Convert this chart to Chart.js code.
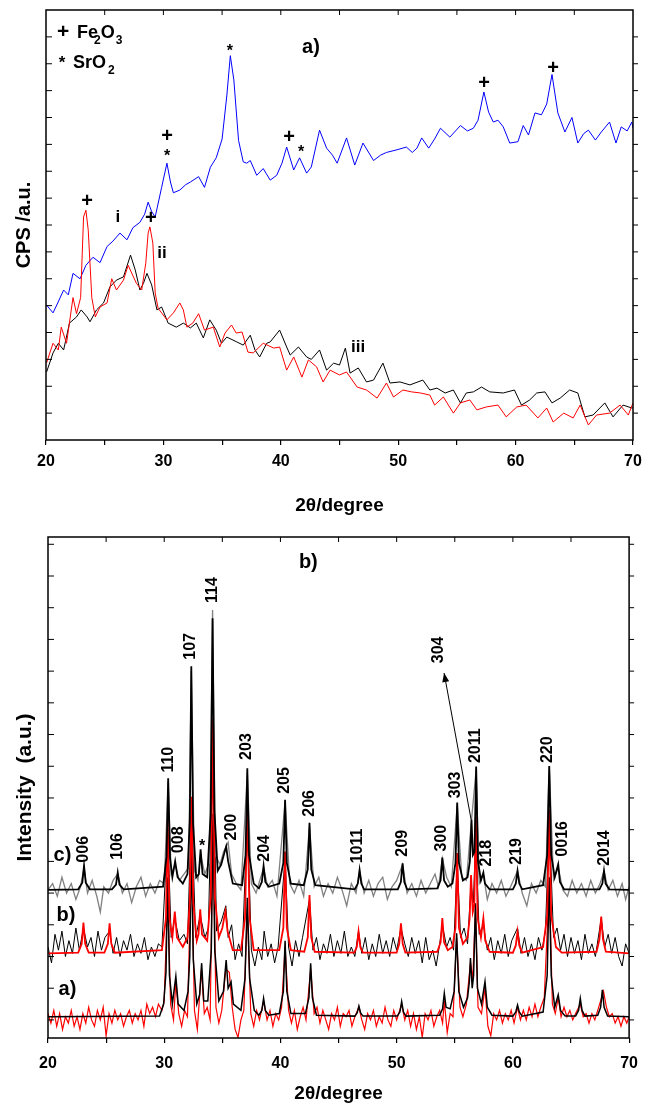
<!DOCTYPE html>
<html>
<head>
<meta charset="utf-8">
<script src="https://cdn.jsdelivr.net/npm/chart.js@4"></script>
<style>
  body { margin: 0; background: #fff; }
  canvas { display: block; }
</style>
</head>
<body>
<canvas id="xrdA" width="649" height="525"></canvas>
<canvas id="xrdB" width="649" height="581"></canvas>
<script>
// ---- panel a) raw patterns, [2theta, counts in a.u.] ----
const patternI = [[20.05,5.02],[20.6,4.73],[21.0,5.1],[21.5,5.58],[21.9,5.4],[22.3,6.2],[22.9,6.0],[23.4,6.5],[24.0,6.8],[24.6,6.6],[25.2,7.2],[25.7,7.4],[26.3,7.7],[26.9,7.45],[27.4,7.9],[28.0,8.1],[28.4,8.4],[28.7,8.85],[29.0,8.5],[29.3,8.3],[29.85,9.4],[30.3,10.3],[30.6,9.6],[30.85,9.2],[31.4,9.3],[31.9,9.5],[32.3,9.6],[33.0,9.8],[33.5,9.4],[34.0,10.15],[34.5,10.5],[35.0,11.2],[35.4,12.8],[35.7,14.3],[36.0,13.4],[36.4,11.15],[36.8,10.35],[37.1,10.3],[37.4,10.4],[37.95,9.85],[38.5,10.1],[39.1,9.67],[39.65,9.85],[40.1,10.3],[40.5,10.9],[41.1,10.05],[41.6,10.5],[42.2,9.93],[42.6,10.16],[43.3,11.53],[43.9,10.86],[44.4,10.6],[44.8,10.3],[45.6,11.24],[46.3,10.23],[47.0,11.05],[47.9,10.4],[48.5,10.6],[49.0,10.7],[49.9,10.8],[50.7,10.9],[51.2,10.7],[51.6,10.86],[52.0,11.24],[52.6,10.86],[53.1,11.2],[53.6,11.6],[54.4,11.27],[55.3,11.7],[55.9,11.5],[56.4,11.6],[56.8,11.9],[57.3,12.95],[57.7,12.2],[58.1,11.83],[58.5,11.9],[58.95,11.65],[59.5,11.05],[60.2,11.1],[60.65,11.7],[61.1,11.35],[61.65,12.17],[62.2,12.1],[62.65,12.5],[63.1,13.6],[63.6,12.17],[64.2,11.46],[64.8,12.0],[65.3,11.05],[65.8,11.4],[66.2,11.53],[66.8,11.16],[67.3,11.46],[68.0,11.83],[68.55,11.05],[69.0,11.65],[69.5,11.5],[69.9,11.83],[70,11.6]];
const patternII = [[20.05,2.87],[20.6,3.6],[21.05,3.35],[21.3,4.2],[21.75,3.6],[22.3,5.3],[22.6,4.7],[22.95,5.3],[23.2,8.3],[23.4,8.55],[23.6,7.8],[23.9,5.3],[24.2,4.58],[24.6,4.95],[25.2,5.1],[25.6,6.0],[26.0,5.58],[26.6,5.95],[27.0,6.5],[27.7,5.83],[28.15,5.58],[28.5,6.58],[28.7,7.7],[28.85,7.93],[29.1,7.33],[29.3,5.47],[29.55,4.9],[30.3,4.47],[30.85,4.73],[31.4,5.1],[31.7,4.84],[32.0,4.2],[32.5,4.35],[33.0,4.7],[33.5,4.09],[34.25,4.2],[34.8,3.46],[35.25,3.98],[35.8,4.28],[36.2,3.98],[36.7,4.02],[37.2,3.27],[37.65,3.24],[38.5,3.6],[39.4,3.42],[39.9,3.46],[40.5,2.6],[41.1,3.09],[41.8,2.34],[42.35,2.98],[43.05,2.72],[43.6,2.16],[44.2,2.6],[45.0,2.42],[45.6,2.53],[46.5,1.97],[47.3,1.86],[48.2,1.56],[49.0,2.12],[49.6,1.6],[50.4,1.86],[51.15,1.79],[51.9,1.75],[52.7,1.67],[53.1,1.3],[53.85,1.6],[54.7,1.0],[55.3,1.38],[56.1,1.49],[56.7,1.12],[57.5,1.23],[58.5,1.3],[59.2,0.86],[60.1,1.23],[60.9,1.3],[61.9,0.82],[62.65,1.19],[63.2,0.67],[64.1,1.0],[64.9,0.82],[65.5,1.3],[66.2,0.56],[66.9,0.93],[68.0,1.0],[68.9,1.3],[69.6,0.93],[70,1.38]];
const patternIII = [[20.05,2.53],[20.6,3.24],[21.05,3.6],[21.5,3.35],[22.0,4.35],[22.6,4.58],[23.0,4.84],[23.5,4.58],[23.75,4.4],[24.3,4.84],[24.9,5.1],[25.45,5.7],[26.0,5.95],[26.6,6.07],[27.2,6.88],[27.6,6.33],[28.0,5.58],[28.3,5.83],[28.6,6.2],[29.0,5.77],[29.45,4.84],[29.85,4.95],[30.4,4.35],[31.1,4.2],[31.7,4.35],[32.3,4.17],[32.8,4.35],[33.4,3.8],[33.95,4.47],[34.5,4.09],[34.95,3.6],[35.4,3.83],[36.25,3.65],[36.8,3.53],[37.4,3.9],[37.8,3.35],[38.2,3.09],[38.8,3.6],[39.1,3.65],[39.9,4.09],[40.5,3.46],[40.8,3.16],[41.5,3.46],[42.2,3.09],[42.6,3.0],[43.3,3.35],[43.9,2.6],[44.5,2.86],[45.0,2.79],[45.5,3.42],[45.9,2.49],[46.6,2.68],[47.3,2.16],[47.9,2.23],[48.7,2.86],[49.3,2.12],[50.15,2.16],[51.0,2.05],[52.1,2.23],[52.7,1.86],[53.3,1.93],[54.0,1.75],[54.7,1.86],[55.3,1.38],[55.8,1.75],[56.4,1.79],[57.1,1.97],[57.8,1.79],[58.95,1.75],[59.9,1.86],[60.5,1.3],[61.2,1.49],[61.8,1.75],[62.5,1.79],[63.1,1.38],[63.8,1.56],[64.6,1.86],[65.3,1.75],[65.9,0.86],[66.6,0.93],[67.6,1.38],[68.3,0.86],[69.15,1.3],[69.9,1.19],[70,1.2]];

// ---- panel b) measured (noisy) and fitted patterns, offset a/b/c ----
const expC = [[20,4.1],[20.4,4.3],[20.8,3.9],[21.2,4.5],[21.6,4.0],[22.0,4.3],[22.4,3.8],[22.8,4.2],[23.1,4.8],[23.4,4.0],[23.8,4.4],[24.2,3.9],[24.5,3.4],[24.8,4.2],[25.2,4.0],[25.6,4.4],[26.0,4.6],[26.4,4.0],[26.8,4.3],[27.2,3.7],[27.6,4.2],[28.0,4.5],[28.4,3.9],[28.8,4.3],[29.2,4.0],[29.6,4.4],[30.0,4.3],[30.34,7.5],[30.6,4.6],[30.94,4.9],[31.3,4.4],[31.7,4.6],[32.1,4.8],[32.33,11.0],[32.6,4.7],[32.9,4.4],[33.13,5.2],[33.5,4.6],[33.9,5.0],[34.16,12.93],[34.4,5.2],[34.8,4.9],[35.1,5.3],[35.5,5.6],[35.8,4.6],[36.2,4.3],[36.6,4.1],[37.15,7.8],[37.5,4.3],[37.9,4.0],[38.55,4.8],[38.9,4.2],[39.3,4.4],[39.7,3.9],[40.4,6.9],[40.8,4.3],[41.2,4.0],[41.6,4.4],[42.0,3.9],[42.5,6.1],[42.9,4.2],[43.3,4.5],[43.7,3.9],[44.1,4.3],[44.5,4.0],[44.9,4.5],[45.3,4.1],[45.7,3.6],[46.1,4.3],[46.5,4.0],[46.81,4.7],[47.2,4.0],[47.6,4.4],[48.0,3.9],[48.4,4.3],[48.8,4.5],[49.2,3.8],[49.6,4.2],[50.0,4.4],[50.51,4.9],[50.9,4.0],[51.3,4.3],[51.7,3.9],[52.1,4.4],[52.5,4.0],[52.9,4.3],[53.3,4.6],[53.6,4.2],[53.93,5.1],[54.3,4.5],[54.7,4.2],[55.21,6.8],[55.6,4.5],[56.0,4.4],[56.44,6.3],[56.84,7.9],[57.1,4.3],[57.46,4.6],[57.8,3.8],[58.2,4.3],[58.6,4.0],[59.0,4.4],[59.4,3.9],[59.8,4.2],[60.4,4.7],[60.8,4.0],[61.2,3.6],[61.6,4.3],[62.0,4.0],[62.4,4.4],[62.8,4.2],[63.13,8.0],[63.5,4.4],[63.9,4.8],[64.3,4.1],[64.7,3.9],[65.1,4.4],[65.5,4.0],[65.9,4.3],[66.3,3.9],[66.7,4.4],[67.1,4.0],[67.5,4.3],[67.84,4.7],[68.2,4.1],[68.6,4.4],[69.0,3.9],[69.4,4.3],[69.7,3.8],[70,4.2]];
const fitC = [[20,4.1],[22.6,4.12],[22.95,4.33],[23.1,4.86],[23.25,4.33],[23.6,4.12],[25.5,4.12],[25.85,4.27],[26.0,4.65],[26.15,4.27],[26.5,4.12],[29.9,4.2],[30.2,5.15],[30.34,7.62],[30.5,5.1],[30.7,4.5],[30.94,5.0],[31.15,4.5],[31.6,4.3],[32.0,4.6],[32.2,6.3],[32.33,11.15],[32.48,6.2],[32.75,4.5],[32.98,4.6],[33.13,5.38],[33.3,4.6],[33.7,4.5],[34.0,6.5],[34.16,12.67],[34.32,6.6],[34.6,4.7],[34.9,4.9],[35.2,5.3],[35.33,5.47],[35.5,5.0],[35.9,4.3],[36.7,4.25],[37.0,5.2],[37.15,7.94],[37.3,5.2],[37.7,4.3],[38.15,4.15],[38.4,4.35],[38.55,4.86],[38.7,4.35],[39.0,4.2],[39.9,4.3],[40.25,4.95],[40.4,6.94],[40.55,4.95],[40.9,4.3],[42.0,4.25],[42.35,4.75],[42.5,6.22],[42.65,4.75],[43.0,4.25],[46.4,4.12],[46.66,4.3],[46.81,4.73],[46.96,4.3],[47.2,4.12],[50.1,4.12],[50.36,4.35],[50.51,4.94],[50.66,4.35],[50.9,4.12],[53.5,4.15],[53.78,4.4],[53.93,5.12],[54.08,4.4],[54.4,4.2],[54.8,4.3],[55.06,4.95],[55.21,6.86],[55.36,4.95],[55.7,4.4],[56.1,4.5],[56.3,5.0],[56.44,6.31],[56.56,5.2],[56.7,5.3],[56.84,7.99],[57.0,5.0],[57.25,4.4],[57.46,4.65],[57.6,4.3],[58.0,4.12],[60.0,4.12],[60.25,4.3],[60.4,4.7],[60.55,4.3],[60.8,4.12],[62.6,4.25],[62.95,5.2],[63.13,8.01],[63.3,5.2],[63.6,4.5],[63.9,4.91],[64.05,4.35],[64.4,4.12],[67.45,4.12],[67.7,4.3],[67.84,4.7],[67.98,4.3],[68.3,4.12],[70,4.1]];
const expB = [[20,2.3],[20.3,1.8],[20.6,2.7],[20.9,2.2],[21.2,2.8],[21.5,2.0],[21.8,2.5],[22.1,2.1],[22.4,2.9],[22.7,2.2],[23.05,2.9],[23.4,2.3],[23.7,2.6],[24.0,2.0],[24.3,2.8],[24.6,2.2],[24.9,2.6],[25.3,2.8],[25.6,2.1],[25.9,2.6],[26.2,2.0],[26.5,2.5],[26.8,2.2],[27.1,2.7],[27.4,2.0],[27.7,2.4],[28.0,2.1],[28.3,2.6],[28.6,1.9],[28.9,2.3],[29.2,2.0],[29.5,2.4],[29.8,2.3],[30.3,6.0],[30.6,2.6],[30.91,3.2],[31.3,2.5],[31.7,2.7],[32.0,2.4],[32.35,6.8],[32.7,2.6],[33.1,3.3],[33.5,2.6],[33.8,2.9],[34.2,9.3],[34.5,2.8],[34.9,3.1],[35.3,3.6],[35.5,2.6],[35.8,3.0],[36.1,1.9],[36.4,2.4],[36.7,2.0],[37.15,6.5],[37.5,2.2],[37.8,1.7],[38.1,2.3],[38.4,1.9],[38.6,2.8],[38.9,2.0],[39.2,2.4],[39.5,1.8],[39.8,2.3],[40.4,5.1],[40.7,2.3],[41.0,1.7],[41.3,2.5],[41.6,2.0],[41.9,2.6],[42.5,3.8],[42.8,2.2],[43.1,2.6],[43.4,1.9],[43.7,2.4],[44.0,2.1],[44.3,2.7],[44.6,2.0],[44.9,2.5],[45.2,2.1],[45.5,2.8],[45.8,2.0],[46.1,2.3],[46.4,2.0],[46.72,2.8],[47.0,2.1],[47.3,2.6],[47.6,1.9],[47.9,2.4],[48.2,2.0],[48.5,2.7],[48.8,2.1],[49.1,2.5],[49.4,2.0],[49.7,2.6],[50.0,2.2],[50.37,2.9],[50.7,2.4],[51.0,2.0],[51.3,2.6],[51.6,2.1],[51.9,2.5],[52.2,1.8],[52.5,2.6],[52.8,1.9],[53.1,2.2],[53.4,1.7],[53.7,2.4],[53.93,3.0],[54.3,2.3],[54.6,2.6],[54.9,2.2],[55.21,5.0],[55.5,2.6],[55.8,2.9],[56.1,2.4],[56.4,4.3],[56.6,3.7],[56.81,5.9],[57.1,2.7],[57.46,3.0],[57.8,2.2],[58.1,2.6],[58.4,1.9],[58.7,2.5],[59.0,2.1],[59.3,2.7],[59.6,2.0],[59.9,2.5],[60.4,2.9],[60.7,2.1],[61.0,2.6],[61.3,2.0],[61.6,2.4],[61.9,1.9],[62.2,2.6],[62.5,2.2],[62.8,2.8],[63.13,6.3],[63.5,2.6],[63.8,2.9],[64.1,2.2],[64.4,2.7],[64.7,2.0],[65.0,2.6],[65.3,2.1],[65.6,2.5],[65.9,1.9],[66.2,2.7],[66.5,2.1],[66.8,2.4],[67.1,2.0],[67.6,3.2],[67.9,2.3],[68.2,2.7],[68.5,2.1],[68.8,2.6],[69.1,2.0],[69.4,1.7],[69.7,2.4],[70,2.1]];
const fitB = [[20,2.1],[22.6,2.12],[22.9,2.4],[23.05,3.07],[23.2,2.4],[23.5,2.12],[24.85,2.12],[25.15,2.4],[25.3,3.05],[25.45,2.4],[25.75,2.12],[29.8,2.2],[30.15,3.2],[30.3,6.3],[30.45,3.2],[30.7,2.6],[30.91,3.42],[31.1,2.6],[31.6,2.3],[32.0,2.6],[32.2,3.7],[32.35,7.04],[32.5,3.7],[32.8,2.5],[32.95,2.7],[33.1,3.49],[33.25,2.7],[33.7,2.5],[34.0,3.9],[34.2,9.5],[34.35,3.9],[34.7,2.6],[35.0,2.9],[35.15,3.2],[35.27,3.42],[35.45,2.8],[35.9,2.2],[36.6,2.2],[36.95,3.2],[37.15,6.73],[37.35,3.2],[37.7,2.2],[39.9,2.2],[40.25,2.9],[40.4,5.31],[40.55,2.9],[40.9,2.2],[42.05,2.15],[42.35,2.6],[42.5,3.94],[42.65,2.6],[42.95,2.15],[46.35,2.12],[46.57,2.3],[46.72,2.79],[46.87,2.3],[47.1,2.12],[50.0,2.12],[50.22,2.4],[50.37,3.05],[50.52,2.4],[50.75,2.12],[53.5,2.15],[53.78,2.45],[53.93,3.21],[54.08,2.45],[54.4,2.2],[54.8,2.3],[55.06,2.9],[55.21,5.26],[55.36,2.9],[55.7,2.4],[56.1,2.6],[56.28,3.2],[56.4,4.57],[56.55,3.4],[56.68,3.6],[56.81,6.41],[56.97,3.2],[57.25,2.6],[57.46,3.21],[57.62,2.5],[58.0,2.15],[60.0,2.12],[60.25,2.35],[60.4,2.79],[60.55,2.35],[60.8,2.12],[62.6,2.3],[62.95,3.3],[63.13,6.62],[63.3,3.3],[63.7,2.3],[64.2,2.12],[67.2,2.15],[67.45,2.55],[67.6,3.26],[67.75,2.55],[68.0,2.15],[70,2.1]];
const expA = [[20,0.2],[20.25,-0.1],[20.5,0.3],[20.75,-0.2],[21.0,0.2],[21.25,-0.3],[21.5,0.1],[21.75,-0.1],[22.0,0.3],[22.25,-0.2],[22.5,0.1],[22.75,-0.3],[23.0,0.2],[23.25,-0.1],[23.5,0.4],[23.75,0.0],[24.0,-0.2],[24.25,0.3],[24.5,0.0],[24.75,0.4],[25.0,-0.5],[25.25,0.2],[25.5,-0.1],[25.75,0.3],[26.0,0.0],[26.25,0.2],[26.5,-0.2],[26.75,0.1],[27.0,0.3],[27.25,-0.1],[27.5,0.2],[27.75,0.0],[28.0,0.3],[28.25,-0.2],[28.5,0.5],[28.75,0.2],[29.0,0.4],[29.25,0.1],[29.5,0.5],[29.8,0.3],[30.0,0.6],[30.3,4.0],[30.55,0.5],[30.8,0.0],[31.0,1.2],[31.25,0.2],[31.5,-0.2],[31.75,0.3],[32.0,0.1],[32.35,5.2],[32.6,0.3],[32.85,-0.3],[33.2,1.6],[33.45,0.2],[33.7,0.4],[33.95,0.0],[34.2,6.2],[34.45,0.4],[34.7,-0.1],[34.95,0.3],[35.3,1.6],[35.6,1.5],[35.85,0.4],[36.1,-0.3],[36.35,-0.55],[36.6,0.0],[36.85,0.3],[37.15,3.5],[37.45,0.2],[37.7,-0.2],[37.95,0.3],[38.2,0.0],[38.55,0.6],[38.85,0.0],[39.1,0.3],[39.35,-0.2],[39.6,0.2],[39.85,0.0],[40.1,0.4],[40.4,2.3],[40.7,0.3],[40.95,-0.1],[41.2,0.3],[41.45,-0.3],[41.7,0.1],[41.95,0.4],[42.2,0.0],[42.6,1.6],[42.9,0.2],[43.15,0.4],[43.4,-0.1],[43.65,0.3],[43.9,0.0],[44.15,-0.3],[44.4,0.2],[44.65,0.0],[44.9,0.4],[45.15,-0.2],[45.4,0.2],[45.65,0.1],[45.9,0.3],[46.15,-0.2],[46.4,0.1],[46.75,0.4],[47.0,0.0],[47.25,-0.3],[47.5,0.2],[47.75,0.0],[48.0,0.3],[48.25,-0.2],[48.5,0.1],[48.75,-0.1],[49.0,0.4],[49.25,0.0],[49.5,-0.2],[49.75,0.3],[50.0,0.0],[50.43,0.5],[50.7,0.0],[50.95,0.3],[51.2,-0.2],[51.45,0.2],[51.7,-0.3],[51.95,0.1],[52.2,-0.55],[52.45,0.2],[52.7,0.0],[52.95,0.3],[53.2,-0.2],[53.45,0.1],[53.7,0.3],[53.95,-0.1],[54.1,0.6],[54.35,-0.4],[54.6,0.2],[54.85,0.1],[55.16,2.6],[55.45,0.4],[55.7,0.1],[56.0,0.5],[56.35,1.8],[56.55,1.3],[56.78,3.5],[57.0,0.4],[57.3,0.2],[57.6,1.0],[57.85,-0.2],[58.1,-0.5],[58.35,0.2],[58.6,0.0],[58.85,0.3],[59.1,-0.1],[59.35,0.2],[59.6,0.0],[59.85,0.3],[60.1,-0.1],[60.4,0.4],[60.65,0.0],[60.9,0.3],[61.15,0.0],[61.4,0.4],[61.65,0.1],[61.9,0.5],[62.15,0.1],[62.4,0.4],[62.7,0.7],[63.13,4.3],[63.4,0.5],[63.65,0.2],[63.9,0.7],[64.15,0.1],[64.4,0.4],[64.65,0.1],[64.9,0.3],[65.15,0.0],[65.4,0.2],[65.8,0.5],[66.05,0.1],[66.3,0.2],[66.55,-0.1],[66.8,0.2],[67.05,0.0],[67.3,0.3],[67.55,0.6],[67.8,0.9],[68.05,0.4],[68.3,0.1],[68.55,0.2],[68.8,-0.1],[69.05,0.1],[69.3,-0.2],[69.55,0.1],[69.8,-0.1],[70,0.1]];
const fitA = [[20,0.1],[29.6,0.12],[29.95,0.5],[30.15,1.5],[30.3,4.5],[30.45,1.4],[30.7,0.5],[31.0,1.37],[31.2,0.5],[31.7,0.3],[32.05,0.9],[32.2,2.0],[32.35,5.5],[32.5,1.9],[32.8,0.5],[33.05,0.8],[33.22,1.79],[33.4,0.6],[33.75,0.6],[34.05,2.2],[34.2,6.5],[34.35,2.2],[34.7,0.6],[35.1,0.9],[35.33,1.89],[35.5,1.0],[35.75,1.2],[35.95,0.5],[36.6,0.3],[36.95,1.3],[37.15,3.85],[37.35,1.3],[37.75,0.3],[38.15,0.15],[38.4,0.3],[38.55,0.68],[38.7,0.3],[39.0,0.15],[39.9,0.2],[40.25,0.9],[40.4,2.5],[40.55,0.9],[40.9,0.2],[42.15,0.2],[42.45,0.7],[42.6,1.79],[42.75,0.7],[43.1,0.15],[46.4,0.12],[46.6,0.22],[46.75,0.44],[46.9,0.22],[47.1,0.12],[50.05,0.12],[50.28,0.25],[50.43,0.58],[50.58,0.25],[50.8,0.12],[53.7,0.15],[53.95,0.35],[54.1,0.84],[54.25,0.4],[54.6,0.35],[54.95,0.9],[55.16,2.73],[55.35,0.9],[55.75,0.4],[56.1,0.7],[56.25,1.2],[56.35,1.95],[56.5,1.0],[56.62,1.4],[56.78,3.68],[56.95,1.0],[57.3,0.5],[57.6,1.21],[57.8,0.4],[58.2,0.15],[60.0,0.12],[60.25,0.25],[60.4,0.47],[60.55,0.25],[60.8,0.12],[62.6,0.25],[62.95,1.4],[63.13,4.5],[63.3,1.4],[63.6,0.4],[63.9,0.79],[64.1,0.3],[64.5,0.12],[65.4,0.12],[65.65,0.3],[65.8,0.68],[65.95,0.3],[66.2,0.12],[67.3,0.15],[67.55,0.4],[67.7,0.95],[67.85,0.4],[68.15,0.12],[70,0.1]];

// ---- annotations: [text, 2theta, intensity] ----
const phaseMarks = [['+',23.49,8.89],['+',28.94,8.26],['+',30.31,11.31],['*',30.31,10.68],['*',35.67,14.59],['+',40.7,11.27],['*',41.72,10.83],['+',57.31,13.25],['+',63.19,13.84]];
const curveTags = [['i',26.13,8.3],['ii',29.88,6.96],['iii',46.58,3.46]];
const hklTags = [['006',23.1,4.96],['106',26.0,5.05],['110',30.34,7.8],['008',31.22,5.26],['107',32.28,11.36],['114',34.13,13.15],['200',35.78,5.66],['203',37.12,8.2],['204',38.63,4.99],['205',40.4,7.13],['206',42.54,6.41],['1011',46.67,4.94],['209',50.51,5.15],['300',53.87,5.31],['303',55.07,6.99],['2011',56.78,8.1],['218',57.72,4.84],['219',60.28,4.89],['220',62.96,8.1],['0016',64.27,5.15],['2014',67.89,4.86],['304',53.65,11.25]];
const stackTags = [['c)',21.24,5.2],['b)',21.54,3.28],['a)',21.67,0.95]];

const FONT = '"Liberation Sans", Arial, sans-serif';
Chart.defaults.font.family = FONT;
Chart.defaults.color = '#000';

const pts = arr => arr.map(([x, y]) => ({ x, y }));
const line = (data, color, width) => ({
  data: pts(data), borderColor: color, borderWidth: width,
  pointRadius: 0, tension: 0, fill: false
});
const range = (a, b) => Array.from({ length: b - a + 1 }, (_, i) => a + i);

function scalesFor(o) {
  return {
    x: {
      type: 'linear', min: 20, max: 70,
      ticks: {
        stepSize: 5, autoSkip: false, maxRotation: 0, padding: o.tickPad,
        font: { size: 16, weight: 'bold' },
        callback: v => (v % 10 === 0 ? v : '')
      },
      grid: { drawOnChartArea: false, tickLength: 5, color: '#000', lineWidth: 1.2 },
      border: { display: false },
      title: { display: true, text: '2θ/degree', font: { size: 19, weight: 'bold' }, padding: { top: 0, bottom: o.xTitlePad } },
      afterFit: s => { s.height = o.bottomH; }
    },
    y: {
      min: o.yMin, max: o.yMax,
      ticks: { display: false },
      grid: { display: false },
      border: { display: false },
      title: { display: true, text: o.yTitle, font: { size: o.yTitleSize, weight: 'bold' }, padding: { top: o.yTitlePad, bottom: 0 } },
      afterFit: s => { s.width = o.leftW; }
    }
  };
}

function text(ctx, t, px, py, size, rotate) {
  ctx.font = `bold ${size}px ${FONT}`;
  ctx.save();
  ctx.translate(px, py);
  if (rotate) {
    ctx.rotate(-Math.PI / 2);
    ctx.textAlign = 'left';
  } else {
    ctx.textAlign = 'center';
  }
  ctx.textBaseline = 'middle';
  ctx.fillText(t, 0, t === '*' ? size * 0.25 : 0);
  ctx.restore();
}

// frame with inner ticks on left/top, outer on right, plus the text labels
const decor = {
  id: 'decor',
  afterDatasetsDraw(chart, args, opts) {
    const { ctx, chartArea: a, scales: { x, y } } = chart;
    const X = v => x.getPixelForValue(v), Y = v => y.getPixelForValue(v);
    ctx.save();
    ctx.strokeStyle = '#000';
    ctx.lineWidth = 1.5;
    ctx.strokeRect(a.left, a.top, a.right - a.left, a.bottom - a.top);
    ctx.lineWidth = 1;
    ctx.beginPath();
    opts.yTicks.forEach(v => {
      ctx.moveTo(a.left, Y(v)); ctx.lineTo(a.left + 6, Y(v));
      ctx.moveTo(a.right, Y(v)); ctx.lineTo(a.right + 5, Y(v));
    });
    [25, 30, 35, 40, 45, 50, 55, 60, 65].forEach(v => {
      ctx.moveTo(X(v), a.top); ctx.lineTo(X(v), a.top + 5);
    });
    ctx.stroke();

    ctx.fillStyle = '#000';
    (opts.upright || []).forEach(([t, vx, vy, size]) => text(ctx, t, X(vx), Y(vy), size, false));
    (opts.rotated || []).forEach(([t, vx, vy, size]) => text(ctx, t, X(vx), Y(vy), size, true));

    if (opts.legend) {
      ctx.textBaseline = 'alphabetic';
      opts.legend.forEach(row => {
        const px = X(row.x), py = Y(row.y);
        ctx.font = `bold ${row.sym === '+' ? 21 : 17}px ${FONT}`;
        ctx.textAlign = 'center';
        ctx.fillText(row.sym, px, py);
        ctx.textAlign = 'left';
        let cx = px + row.gap;
        row.runs.forEach(([s, sub, dx]) => {
          ctx.font = `bold ${sub ? 12 : 18}px ${FONT}`;
          cx += dx;
          ctx.fillText(s, cx, py + (sub ? 6 : 0));
          cx += ctx.measureText(s).width;
        });
      });
    }

    (opts.arrows || []).forEach(([x0, y0, x1, y1]) => {
      const sx = X(x0), sy = Y(y0), ex = X(x1), ey = Y(y1);
      const ang = Math.atan2(ey - sy, ex - sx);
      ctx.beginPath();
      ctx.moveTo(sx, sy); ctx.lineTo(ex, ey);
      ctx.stroke();
      ctx.beginPath();
      ctx.moveTo(ex, ey);
      ctx.lineTo(ex - 9 * Math.cos(ang) + 3.5 * Math.sin(ang), ey - 9 * Math.sin(ang) - 3.5 * Math.cos(ang));
      ctx.lineTo(ex - 9 * Math.cos(ang) - 3.5 * Math.sin(ang), ey - 9 * Math.sin(ang) + 3.5 * Math.cos(ang));
      ctx.closePath();
      ctx.fill();
    });
    ctx.restore();
  }
};

const common = {
  responsive: false,
  animation: false,
  events: [],
  parsing: false
};

new Chart(document.getElementById('xrdA'), {
  type: 'line',
  data: {
    datasets: [
      line(patternII, '#ff0000', 1),
      line(patternIII, '#000000', 1),
      line(patternI, '#0000ff', 1)
    ]
  },
  options: {
    ...common,
    layout: { padding: { top: 10, right: 16, left: 0, bottom: 0 } },
    scales: scalesFor({ yMin: 0, yMax: 16, yTitle: 'CPS /a.u.', yTitleSize: 20, yTitlePad: 12, leftW: 46, bottomH: 85, tickPad: 7, xTitlePad: 8 }),
    plugins: {
      legend: { display: false },
      tooltip: { enabled: false },
      decor: {
        yTicks: range(1, 15),
        upright: [
          ...phaseMarks.map(([t, x, y]) => [t, x, y, t === '+' ? 20 : 16]),
          ...curveTags.map(([t, x, y]) => [t, x, y, 17]),
          ['a)', 42.57, 14.62, 20]
        ],
        legend: [
          { sym: '+', x: 21.45, y: 14.96, gap: 14, runs: [['Fe', 0, 0], ['2', 1, -4], ['O', 0, 0], ['3', 1, 1]] },
          { sym: '*', x: 21.36, y: 13.84, gap: 11, runs: [['SrO', 0, 0], ['2', 1, 2]] }
        ]
      }
    }
  },
  plugins: [decor]
});

new Chart(document.getElementById('xrdB'), {
  type: 'line',
  data: {
    datasets: [
      line(fitC, '#000000', 1.8),
      line(fitB, '#ff0000', 1.8),
      line(fitA, '#000000', 1.5),
      line(expC, '#808080', 1.3),
      line(expB, '#000000', 1),
      line(expA, '#ff0000', 1.2)
    ]
  },
  options: {
    ...common,
    layout: { padding: { top: 12, right: 16, left: 0, bottom: 0 } },
    scales: scalesFor({ yMin: -0.57, yMax: 15.23, yTitle: 'Intensity  (a.u.)', yTitleSize: 21, yTitlePad: 13, leftW: 48, bottomH: 68, tickPad: 11, xTitlePad: 1 }),
    plugins: {
      legend: { display: false },
      tooltip: { enabled: false },
      decor: {
        yTicks: range(0, 15),
        upright: [
          ...stackTags.map(([t, x, y]) => [t, x, y, 20]),
          ['b)', 42.4, 14.43, 20],
          ['*', 33.27, 5.6, 16]
        ],
        rotated: hklTags.map(([t, x, y]) => [t, x, y, 16]),
        arrows: [[56.41, 6.31, 54.08, 10.94]]
      }
    }
  },
  plugins: [decor]
});
</script>
</body>
</html>
